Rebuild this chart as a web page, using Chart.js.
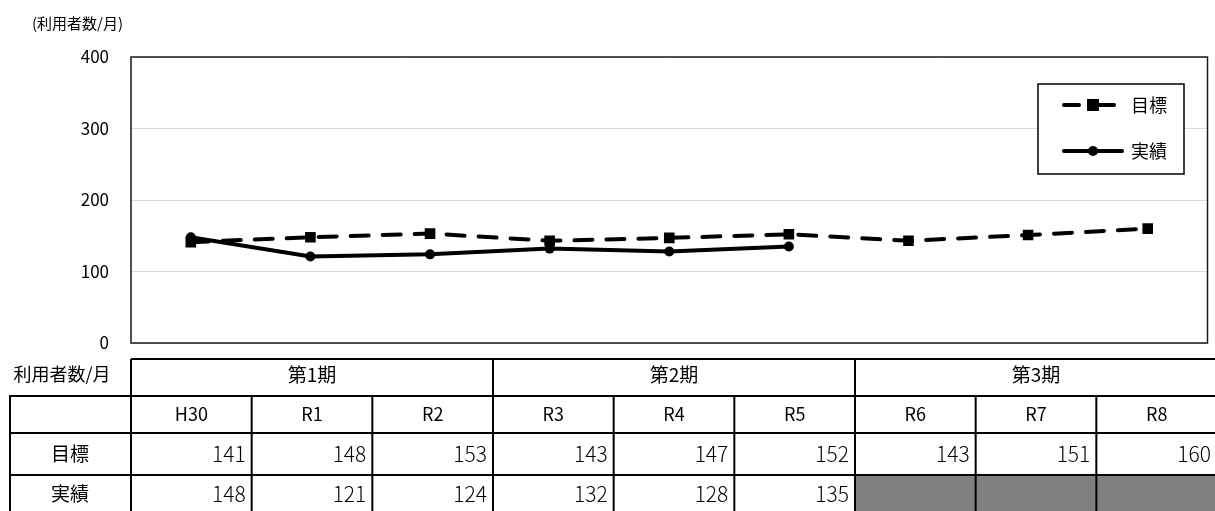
<!DOCTYPE html>
<html lang="ja">
<head>
<meta charset="utf-8">
<title>利用者数/月</title>
<script src="https://cdn.jsdelivr.net/npm/chart.js@4.4.1/dist/chart.umd.min.js"></script>
<style>
  html, body { margin: 0; padding: 0; background: #fff; }
  #wrap { width: 1215px; height: 511px; }
</style>
</head>
<body>
<div id="wrap"><canvas id="chart" width="1215" height="511"></canvas></div>
<script>
// data
const years = ['H30', 'R1', 'R2', 'R3', 'R4', 'R5', 'R6', 'R7', 'R8'];
const periods = ['第1期', '第2期', '第3期'];
const yearsPerPeriod = 3;
const targetValues = [141, 148, 153, 143, 147, 152, 143, 151, 160];
const actualValues = [148, 121, 124, 132, 128, 135, null, null, null];
const yTicks = [0, 100, 200, 300, 400];
const seriesNames = ['目標', '実績'];
const unitLabel = '利用者数/月';
const axisTitle = '(利用者数/月)';

const FONT = '"Noto Sans CJK JP", "Noto Sans", sans-serif';

// table geometry
const rowEdges = [359, 396, 433, 475, 513];
const tableRight = 1217;

function txt(ctx, s, x, y, font, align) {
    ctx.font = font;
    ctx.fillStyle = '#000';
    ctx.textAlign = align || 'center';
    ctx.textBaseline = 'middle';
    ctx.fillText(s, x, y);
}

// draws frame, title, legend and the data table under the plot
const extrasPlugin = {
    id: 'extras',
    afterDraw(chart) {
        const ctx = chart.ctx;
        const area = chart.chartArea;
        const n = years.length;
        const left = area.left;
        const colW = (tableRight - left) / n;
        ctx.save();

        // plot frame
        ctx.strokeStyle = '#1a1a1a';
        ctx.lineWidth = 1.5;
        ctx.strokeRect(area.left, area.top, area.right - area.left, area.bottom - area.top);

        // axis unit
        txt(ctx, axisTitle, 32, 23, '15px ' + FONT, 'left');

        // legend
        const lx = 1038, ly = 84, lw = 146, lh = 90;
        ctx.fillStyle = '#fff';
        ctx.fillRect(lx, ly, lw, lh);
        ctx.strokeStyle = '#000';
        ctx.lineWidth = 1.5;
        ctx.strokeRect(lx, ly, lw, lh);
        ctx.lineWidth = 4;
        ctx.lineCap = 'round';
        ctx.beginPath();
        ctx.moveTo(1064, 105); ctx.lineTo(1079, 105);
        ctx.moveTo(1096, 105); ctx.lineTo(1114, 105);
        ctx.stroke();
        ctx.fillStyle = '#000';
        ctx.fillRect(1087, 99, 12, 12);
        ctx.beginPath();
        ctx.moveTo(1064, 151); ctx.lineTo(1122, 151);
        ctx.stroke();
        ctx.beginPath();
        ctx.arc(1093, 151, 5, 0, Math.PI * 2);
        ctx.fill();
        txt(ctx, seriesNames[0], 1131, 105, '18px ' + FONT, 'left');
        txt(ctx, seriesNames[1], 1131, 151, '18px ' + FONT, 'left');

        // table fills
        ctx.fillStyle = '#808080';
        actualValues.forEach((v, i) => {
            if (v === null) {
                ctx.fillRect(left + i * colW, rowEdges[3], colW, rowEdges[4] - rowEdges[3]);
            }
        });

        // table grid
        ctx.strokeStyle = '#000';
        ctx.lineWidth = 2;
        ctx.lineCap = 'butt';
        ctx.beginPath();
        ctx.moveTo(left, rowEdges[0]); ctx.lineTo(tableRight, rowEdges[0]);
        for (let r = 1; r < 4; r++) {
            ctx.moveTo(9, rowEdges[r]); ctx.lineTo(tableRight, rowEdges[r]);
        }
        ctx.moveTo(10, rowEdges[1]); ctx.lineTo(10, rowEdges[4]);
        ctx.moveTo(left, rowEdges[0]); ctx.lineTo(left, rowEdges[4]);
        for (let p = 1; p < periods.length; p++) {
            const xx = left + p * yearsPerPeriod * colW;
            ctx.moveTo(xx, rowEdges[0]); ctx.lineTo(xx, rowEdges[4]);
        }
        for (let i = 1; i < n; i++) {
            if (i % yearsPerPeriod === 0) continue;
            const xx = left + i * colW;
            ctx.moveTo(xx, rowEdges[1]); ctx.lineTo(xx, rowEdges[4]);
        }
        ctx.stroke();

        // table text
        const midY = r => (rowEdges[r] + rowEdges[r + 1]) / 2;
        txt(ctx, unitLabel, 62, 374, '18px ' + FONT);
        periods.forEach((p, k) => {
            const cx = left + (k * yearsPerPeriod + yearsPerPeriod / 2) * colW;
            txt(ctx, p, cx, 375, '19px ' + FONT);
        });
        years.forEach((y, i) => {
            txt(ctx, y, left + (i + 0.5) * colW, midY(1), '18px ' + FONT);
        });
        txt(ctx, seriesNames[0], 70, midY(2), '19px ' + FONT);
        txt(ctx, seriesNames[1], 70, midY(3), '19px ' + FONT);
        const numFont = '300 21px ' + FONT;
        targetValues.forEach((v, i) => {
            txt(ctx, String(v), left + (i + 1) * colW - 6, midY(2), numFont, 'right');
        });
        actualValues.forEach((v, i) => {
            if (v !== null) txt(ctx, String(v), left + (i + 1) * colW - 6, midY(3), numFont, 'right');
        });

        ctx.restore();
    }
};

new Chart(document.getElementById('chart'), {
    type: 'line',
    data: {
        labels: years,
        datasets: [
            {
                label: seriesNames[0],
                data: targetValues,
                borderColor: '#000',
                backgroundColor: '#000',
                borderWidth: 4,
                borderDash: [18, 14],
                borderCapStyle: 'round',
                pointStyle: 'rect',
                pointRadius: 7.5,
                pointBorderWidth: 0,
                tension: 0
            },
            {
                label: seriesNames[1],
                data: actualValues,
                borderColor: '#000',
                backgroundColor: '#000',
                borderWidth: 4,
                pointStyle: 'circle',
                pointRadius: 5,
                pointBorderWidth: 0,
                tension: 0,
                spanGaps: false
            }
        ]
    },
    options: {
        responsive: false,
        animation: false,
        devicePixelRatio: 1,
        layout: { padding: { top: 57, bottom: 511 - 343, left: 0, right: 3 } },
        plugins: {
            legend: { display: false },
            tooltip: { enabled: false }
        },
        scales: {
            x: {
                type: 'category',
                offset: true,
                display: false
            },
            y: {
                min: 0,
                max: 400,
                afterFit(scale) { scale.width = 131; },
                afterBuildTicks(scale) { scale.ticks = yTicks.map(v => ({ value: v })); },
                border: { display: false },
                grid: { color: '#d9d9d9', lineWidth: 1, drawTicks: false },
                ticks: {
                    padding: 22,
                    color: '#000',
                    font: { family: FONT, size: 17 }
                }
            }
        }
    },
    plugins: [extrasPlugin]
});
</script>
</body>
</html>
